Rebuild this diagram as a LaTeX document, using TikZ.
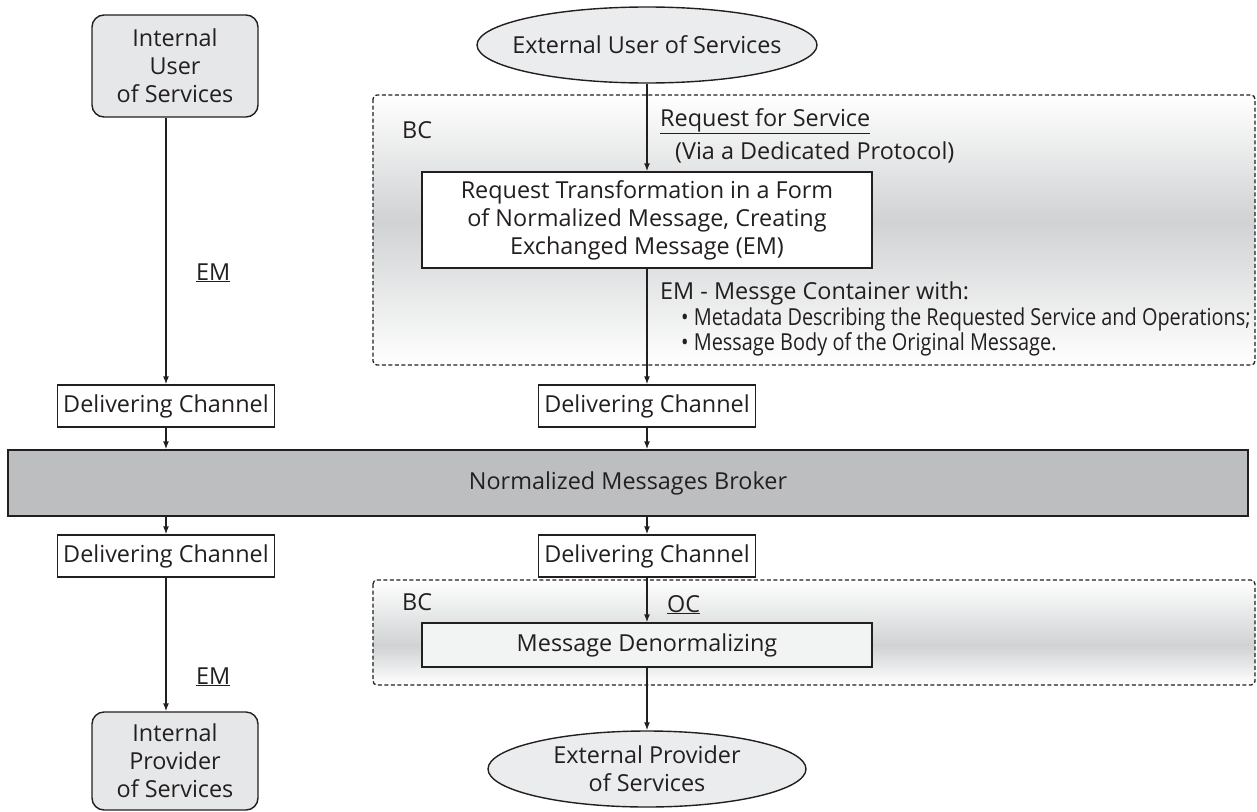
\documentclass[tikz,border=0pt]{standalone}
\usepackage{fontspec}
\setmainfont{Open Sans}
\newfontfamily\narrowfont[FakeStretch=0.85]{Open Sans}
\usetikzlibrary{arrows.meta,shapes.geometric}
\definecolor{ink}{HTML}{231F20}
\definecolor{boxgray}{HTML}{E6E7E8}
\definecolor{brokergray}{HTML}{BCBEC0}
\definecolor{bandgray}{HTML}{D0D2D3}

\tikzset{
  every node/.style={text=ink},
  userbox/.style={draw=ink, line width=1.4pt, fill=boxgray, rounded corners=12pt,
    align=center, inner sep=0pt, minimum width=166pt},
  extnode/.style={draw=ink, line width=1.4pt, fill=boxgray!80, ellipse, inner sep=0pt},
  plainbox/.style={draw=ink, line width=1.4pt, fill=white, align=center, inner sep=0pt},
  chanbox/.style={plainbox, minimum width=217pt, minimum height=42pt},
  brokerbox/.style={draw=ink, line width=1.4pt, fill=brokergray, inner sep=0pt,
    minimum width=1240pt, minimum height=66pt},
  zone/.style={draw=ink, line width=1.3pt, dash pattern=on 4pt off 2.5pt, rounded corners=4pt},
  flow/.style={draw=ink, line width=1.4pt, -{Latex[length=8pt,width=6pt]}},
  label/.style={inner sep=0pt, anchor=base west},
  note/.style={inner sep=0pt, anchor=base west, font=\narrowfont\fontsize{23.4}{25}\selectfont},
}

\begin{document}
\begin{tikzpicture}[x=1pt, y=-1pt, font=\fontsize{23.4}{28}\selectfont]
\useasboundingbox (0,0) rectangle (1257,811);

% binding-component zones with their soft grey band
\begin{scope}
  \clip[rounded corners=4pt] (373,95) rectangle (1255,365);
  \fill[top color=white, bottom color=bandgray] (373,95) rectangle (1255,221);
  \fill[top color=bandgray, bottom color=white] (373,220.5) rectangle (1255,365);
\end{scope}
\draw[zone] (373,95) rectangle (1255,365);

\begin{scope}
  \clip[rounded corners=4pt] (373,580) rectangle (1255,685);
  \fill[top color=white, bottom color=bandgray] (373,580) rectangle (1255,646);
  \fill[top color=bandgray, bottom color=white] (373,645.5) rectangle (1255,685);
\end{scope}
\draw[zone] (373,580) rectangle (1255,685);

% service consumers and providers
\node[userbox, minimum height=102pt] (intuser) at (175,66) {Internal\\User\\of Services};
\node[userbox, minimum height=98pt] (intprov) at (175,761) {Internal\\Provider\\of Services};
\node[extnode, minimum width=340pt, minimum height=76pt] (extuser) at (647,45) {};
\node[inner sep=0pt] (extusertext) at (extuser.center) {External User of Services};
\node[extnode, minimum width=318pt, minimum height=76pt] (extprov) at (647,769) {};
\node[inner sep=0pt, align=center] (extprovtext) at (extprov.center) {External Provider\\of Services};

% delivering channels and the broker
\node[chanbox] (dcul) at (166,406) {Delivering Channel};
\node[chanbox] (dcur) at (647,406) {Delivering Channel};
\node[brokerbox] (broker) at (628,483) {Normalized Messages Broker};
\node[chanbox] (dcll) at (166,556) {Delivering Channel};
\node[chanbox] (dclr) at (647,556) {Delivering Channel};

% processing inside the binding components
\node[plainbox, minimum width=450pt, minimum height=96pt] (transform) at (647,220)
  {Request Transformation in a Form\\of Normalized Message, Creating\\Exchanged Message (EM)};
\node[plainbox, fill=boxgray!50, minimum width=450pt, minimum height=44pt] (denorm) at (647,645)
  {Message Denormalizing};

% zone titles and flow labels
\node[label] (bctop) at (402,138) {BC};
\node[label] (bcbot) at (402,610) {BC};
\node[label] (reqlbl) at (660,126) {\underline{Request for Service}};
\node[label] (protolbl) at (675,159) {(Via a Dedicated Protocol)};
\node[label] (emcont) at (660,299) {EM - Messge Container with:};
\node[note] (itemone) at (681,325) {\textbullet\ Metadata Describing the Requested Service and Operations;};
\node[note] (itemtwo) at (681,350) {\textbullet\ Message Body of the Original Message.};
\node[label] (emleft) at (196,280) {\underline{EM}};
\node[label] (emleftlow) at (196,684) {\underline{EM}};
\node[label] (oclbl) at (667,612) {\underline{OC}};

% internal path
\draw[flow] (dcul.north |- intuser.south) -- (dcul.north);
\draw[flow] (dcul.south) -- (dcul.south |- broker.north);
\draw[flow] (dcll.north |- broker.south) -- (dcll.north);
\draw[flow] (dcll.south) -- (dcll.south |- intprov.north);

% external path
\draw[flow] (extuser.south) -- (transform.north);
\draw[flow] (transform.south) -- (dcur.north);
\draw[flow] (dcur.south) -- (dcur.south |- broker.north);
\draw[flow] (dclr.north |- broker.south) -- (dclr.north);
\draw[flow] (dclr.south) -- (denorm.north);
\draw[flow] (denorm.south) -- (extprov.north);
\end{tikzpicture}
\end{document}
